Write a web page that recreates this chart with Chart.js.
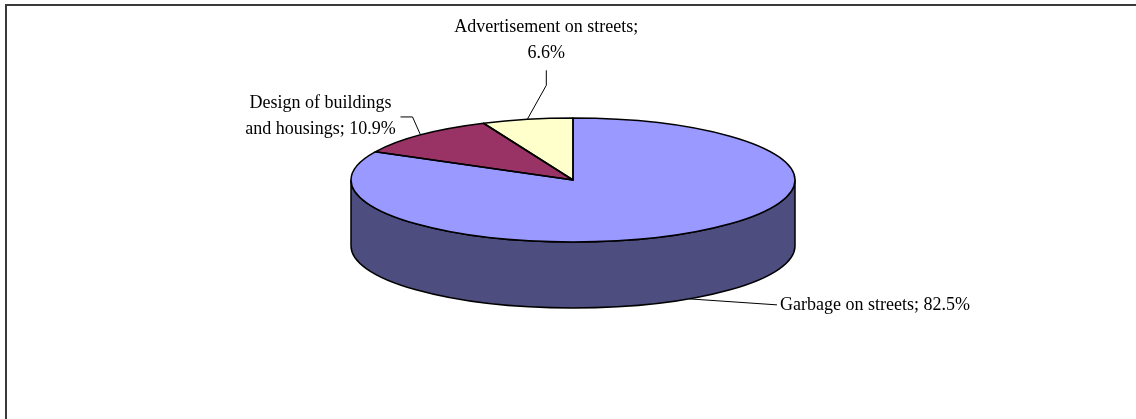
<!DOCTYPE html>
<html><head><meta charset="utf-8">
<script src="https://cdn.jsdelivr.net/npm/chart.js@4.4.1/dist/chart.umd.min.js"></script>
<style>html,body{margin:0;padding:0;background:#fff;} #wrap{width:1136px;height:419px;position:relative;}</style>
</head><body><div id="wrap"><canvas id="c"></canvas></div>
<script>
const categories = ["Garbage on streets", "Design of buildings and housings", "Advertisement on streets"];
const shares = [82.5, 10.9, 6.6];
const topColors = ["#9999FF", "#993366", "#FFFFCC"];
const sideColors = ["#4D4D80", "#4D1A33", "#808066"];

const TILT = 62 / 222;
const DEPTH = 66;
const FONT = '18px "Liberation Serif", "Times New Roman", serif';
const LINE_GAP = 26;
const labelStyle = [
  {wrap: Infinity, on: 'bottom', leader: [[88, 6]], text: [91, 11], align: 'left'},
  {wrap: 160, on: 'top', leader: [[-8, -18], [-20, -18]], text: [-100, -27], align: 'center'},
  {wrap: 195, on: 'top', leader: [[19, -34], [19, -49]], text: [19, -87], align: 'center'}
];

function wrapText(ctx, str, maxW) {
  const words = str.split(' ');
  const lines = [];
  let cur = '';
  for (const w of words) {
    const t = cur ? cur + ' ' + w : w;
    if (cur && ctx.measureText(t).width > maxW) { lines.push(cur); cur = w; }
    else cur = t;
  }
  if (cur) lines.push(cur);
  return lines;
}

const pie3d = {
  id: 'pie3d',
  beforeDatasetsDraw(chart) {
    const ctx = chart.ctx;
    const meta = chart.getDatasetMeta(0);
    ctx.save();
    ctx.lineWidth = 1.5; ctx.strokeStyle = '#000'; ctx.lineJoin = 'round';
    meta.data.forEach((el, i) => {
      const rx = el.outerRadius, ry = rx * TILT;
      for (const k of [-2 * Math.PI, 0, 2 * Math.PI]) {
        const a = Math.max(el.startAngle + k, 0), b = Math.min(el.endAngle + k, Math.PI);
        if (b <= a) continue;
        ctx.beginPath();
        ctx.ellipse(el.x, el.y, rx, ry, 0, a, b);
        ctx.ellipse(el.x, el.y + DEPTH, rx, ry, 0, b, a, true);
        ctx.closePath();
        ctx.fillStyle = sideColors[i];
        ctx.fill();
        ctx.stroke();
      }
    });
    ctx.restore();
    const e0 = meta.data[0];
    ctx.save();
    ctx.translate(e0.x, e0.y);
    ctx.scale(1, TILT);
    ctx.translate(-e0.x, -e0.y);
  },
  afterDatasetsDraw(chart) {
    const ctx = chart.ctx;
    ctx.restore();
    const meta = chart.getDatasetMeta(0);
    ctx.save();
    ctx.lineWidth = 1.5; ctx.strokeStyle = '#000'; ctx.lineJoin = 'round';
    meta.data.forEach((el) => {
      const rx = el.outerRadius, ry = rx * TILT;
      ctx.beginPath();
      ctx.moveTo(el.x, el.y);
      ctx.ellipse(el.x, el.y, rx, ry, 0, el.startAngle, el.endAngle);
      ctx.closePath();
      ctx.stroke();
    });
    // labels
    ctx.font = FONT;
    ctx.fillStyle = '#000';
    ctx.textBaseline = 'alphabetic';
    meta.data.forEach((el, i) => {
      const st = labelStyle[i];
      const mid = (el.startAngle + el.endAngle) / 2;
      const ax = el.x + el.outerRadius * Math.cos(mid);
      const ay = el.y + el.outerRadius * TILT * Math.sin(mid) + (st.on === 'bottom' ? DEPTH : 0);
      ctx.beginPath();
      ctx.lineWidth = 1; ctx.strokeStyle = '#000';
      ctx.moveTo(ax, ay);
      st.leader.forEach(p => ctx.lineTo(ax + p[0], ay + p[1]));
      ctx.stroke();
      const txt = categories[i] + '; ' + shares[i].toFixed(1) + '%';
      const lines = wrapText(ctx, txt, st.wrap);
      ctx.textAlign = st.align;
      lines.forEach((ln, j) => ctx.fillText(ln, ax + st.text[0], ay + st.text[1] + j * LINE_GAP));
    });
    ctx.restore();
  },
  afterDraw(chart) {
    const ctx = chart.ctx;
    ctx.save();
    ctx.lineWidth = 2; ctx.strokeStyle = '#3a3a3a';
    ctx.strokeRect(6, 5, 1300, 600);
    ctx.restore();
  }
};

new Chart(document.getElementById('c'), {
  type: 'pie',
  data: {labels: categories, datasets: [{data: shares, backgroundColor: topColors, borderWidth: 0, clip: false}]},
  options: {
    responsive: true, maintainAspectRatio: false, animation: false, events: [],
    radius: 222,
    layout: {padding: {left: 10, right: 0, top: 0, bottom: 59}},
    plugins: {legend: {display: false}, tooltip: {enabled: false}}
  },
  plugins: [pie3d]
});
</script></body></html>
